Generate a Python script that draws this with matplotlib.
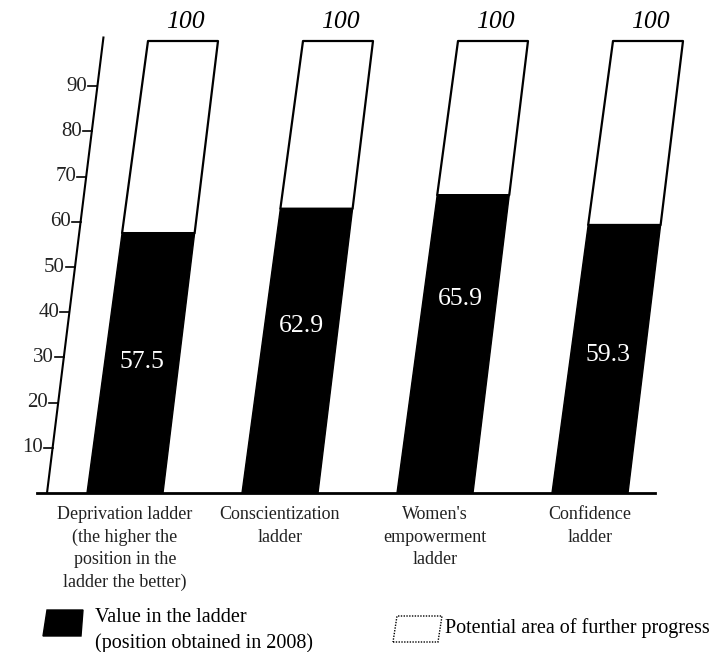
import numpy as np
import matplotlib.pyplot as plt
from matplotlib.patches import Polygon

plt.rcParams['font.family'] = ['Liberation Serif', 'DejaVu Serif']

# data
categories = ["Deprivation ladder\n(the higher the\nposition in the\nladder the better)",
              "Conscientization\nladder",
              "Women's\nempowerment\nladder",
              "Confidence\nladder"]
values = [57.5, 62.9, 65.9, 59.3]
maximum = [100, 100, 100, 100]
label_heights = [29, 37, 43, 30.5]
yticks = [10, 20, 30, 40, 50, 60, 70, 80, 90]

px = 1 / 155.0          # one pixel in category units
slant_l = 61 * px / 100  # shift of the left edge per value unit
slant_r = 55 * px / 100  # right edge leans a bit less
slant_ax = 56 * px / 100
width = 76 * px


def sheared(c, y0, y1):
    l, r = c - width / 2, c + width / 2
    return [(l + slant_l * y0, y0), (r + slant_r * y0, y0),
            (r + slant_r * y1, y1), (l + slant_l * y1, y1)]


fig = plt.figure(figsize=(7.10, 6.52), dpi=100)
ax = fig.add_axes([0, 0, 1, 1])
ax.set_xlim(-125 * px, (710 - 125) * px)
ax.set_ylim(-(652 - 493) / 4.52, 493 / 4.52)
ax.axis('off')

mid = (slant_l + slant_r) / 2
for i, (v, m) in enumerate(zip(values, maximum)):
    ax.add_patch(Polygon(sheared(i, v, m), closed=True, facecolor='white',
                         edgecolor='black', linewidth=1.6, joinstyle='round'))
    ax.add_patch(Polygon(sheared(i, 0, v), closed=True, facecolor='black',
                         edgecolor='black', linewidth=1.0))
    ax.text(i + mid * m + 2 * px, m + 4.3, f"{m}", ha='center', va='center',
            fontsize=18.5, style='italic')
    h = label_heights[i]
    ax.text(i + mid * h, h, f"{v}", ha='center', va='center',
            fontsize=18.5, color='white')
    ax.text(i, -2.9, categories[i], ha='center', va='top', fontsize=13,
            linespacing=1.42, color='#222222')

# slanted value axis
ax0 = -78 * px
ax.plot([ax0, ax0 + slant_ax * 101], [0, 101], color='black', lw=1.5,
        solid_capstyle='butt')
for t in yticks:
    xa = ax0 + slant_ax * t
    ax.plot([xa - 9 * px, xa], [t, t], color='black', lw=1.2)
    ax.text(xa - 10 * px, t, str(t), ha='right', va='center', fontsize=15,
            color='#222222')

# baseline
ax.plot([-88 * px, 530 * px], [0, 0], color='black', lw=2)

# legend
fig.patches.append(Polygon([(43, 652 - 636), (81, 652 - 636), (83, 652 - 610),
                            (47, 652 - 610)], closed=True,
                           transform=None, facecolor='black',
                           edgecolor='black'))
fig.patches.append(Polygon([(393, 652 - 642), (438, 652 - 642), (442, 652 - 616),
                            (397, 652 - 616)], closed=True,
                           transform=None, facecolor='white',
                           edgecolor='black', linestyle=(0, (1, 1)), lw=1))
fig.text(95 / 710, 1 - 617 / 652, "Value in the ladder", fontsize=14.5,
         va='center', ha='left')
fig.text(95 / 710, 1 - 643 / 652, "(position obtained in 2008)", fontsize=14.5,
         va='center', ha='left')
fig.text(445 / 710, 1 - 628 / 652, "Potential area of further progress",
         fontsize=14.5, va='center', ha='left')

fig.savefig('out.png', dpi=100)
